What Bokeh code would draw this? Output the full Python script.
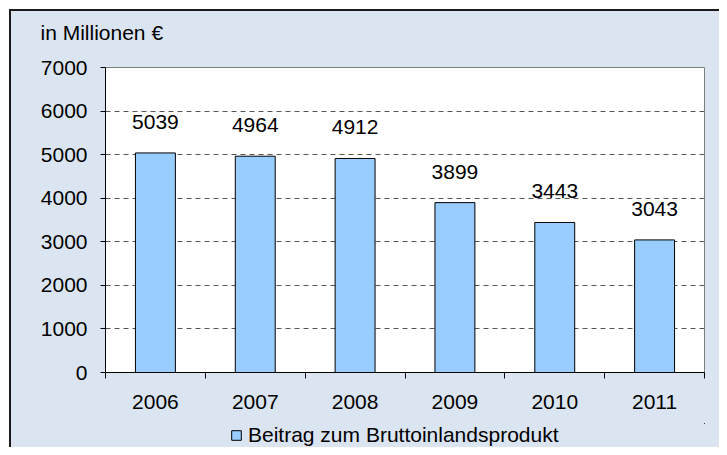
from bokeh.plotting import figure
from bokeh.layouts import column
from bokeh.models import FixedTicker, Range1d, Legend, LegendItem, Title, ColumnDataSource
from bokeh.core.properties import value
from bokeh.embed import file_html
from bokeh.resources import INLINE

years = ["2006", "2007", "2008", "2009", "2010", "2011"]
values = [5039, 4964, 4912, 3899, 3443, 3043]
y_ticks = [0, 1000, 2000, 3000, 4000, 5000, 6000, 7000]
unit_label = "in Millionen €"
series_name = "Beitrag zum Bruttoinlandsprodukt"

FONT = "Liberation Sans"
FS = "21px"
BG = "#dbe5f1"
BAR_FILL = "#99ccff"

x_centers = [i + 0.5 for i in range(len(years))]
x_bounds = list(range(len(years) + 1))

src = ColumnDataSource(dict(x=x_centers, top=values, lbl=[str(v) for v in values]))

p = figure(width=708, height=412, output_backend="svg", toolbar_location=None,
           x_range=Range1d(0, len(years)), y_range=Range1d(y_ticks[0], y_ticks[-1]),
           min_border_left=94, min_border_right=15, min_border_top=56, min_border_bottom=51)

p.background_fill_color = "white"
p.border_fill_color = BG
p.outline_line_color = "#7f7f7f"
p.outline_line_width = 1

bars = p.vbar(x="x", top="top", bottom=0, width=0.4, source=src,
              fill_color=BAR_FILL, line_color="black", line_width=1)

p.text(x="x", y="top", text="lbl", source=src, text_align="center",
       text_baseline="alphabetic", y_offset=-31, text_font=value(FONT),
       text_font_size=FS, text_color="black")

# axes
p.xaxis.ticker = FixedTicker(ticks=x_centers, minor_ticks=x_bounds)
p.xaxis.major_label_overrides = {x: y for x, y in zip(x_centers, years)}
p.xaxis.major_tick_out = 0
p.xaxis.major_tick_in = 0
p.xaxis.minor_tick_out = 6
p.xaxis.minor_tick_in = 0
p.xaxis.minor_tick_line_color = "black"
p.xaxis.major_label_standoff = 16

p.yaxis.ticker = FixedTicker(ticks=y_ticks)
p.yaxis.major_tick_out = 5
p.yaxis.major_tick_in = 0
p.yaxis.minor_tick_line_color = None
p.yaxis.major_label_standoff = 13

for ax in (p.xaxis, p.yaxis):
    ax.axis_line_color = "black"
    ax.axis_line_width = 1
    ax.major_tick_line_color = "black"
    ax.major_label_text_font = FONT
    ax.major_label_text_font_size = FS
    ax.major_label_text_color = "black"

p.xgrid.grid_line_color = None
p.ygrid.grid_line_color = "#555555"
p.ygrid.grid_line_dash = "5 4"
p.ygrid.grid_line_width = 1

# unit label at the top left (a thin spacer keeps it away from the frame)
p.title = None
p.add_layout(Title(text=" ", text_font_size="1px", standoff=16), "above")
p.add_layout(Title(text=unit_label, align="left", offset=-65, standoff=10,
                   text_font=FONT, text_font_size=FS, text_font_style="normal",
                   text_color="black"), "above")

# legend strip below the chart (its bars lie far outside the strip's view; only the key shows)
pl = figure(width=708, height=24, output_backend="svg", toolbar_location=None,
            x_range=Range1d(-100, -94), y_range=Range1d(-100000, -99000),
            x_axis_location=None, y_axis_location=None,
            min_border_left=0, min_border_right=0, min_border_top=0, min_border_bottom=0)
pl.background_fill_alpha = 0
pl.border_fill_alpha = 0
pl.outline_line_color = None
pl.grid.visible = False
legend_glyph = pl.vbar(x="x", top="top", bottom=0, width=0, source=src,
                       fill_color=BAR_FILL, line_color="black", line_width=1)
legend = Legend(items=[LegendItem(label=series_name, renderers=[legend_glyph])],
                location=(125, 0), orientation="horizontal",
                background_fill_alpha=0, border_line_color=None,
                padding=0, margin=0, spacing=0,
                glyph_width=12, glyph_height=12, label_standoff=6,
                label_text_font=FONT, label_text_font_size=FS, label_text_color="black")
pl.add_layout(legend, "center")

layout = column(p, pl, spacing=0)
layout.styles = {"margin-left": "9px", "margin-top": "9px", "background-color": BG,
                 "border-left": "2px solid #1a1a1a", "border-top": "2px solid #1a1a1a"}

open("out.html", "w").write(file_html(layout, INLINE))
